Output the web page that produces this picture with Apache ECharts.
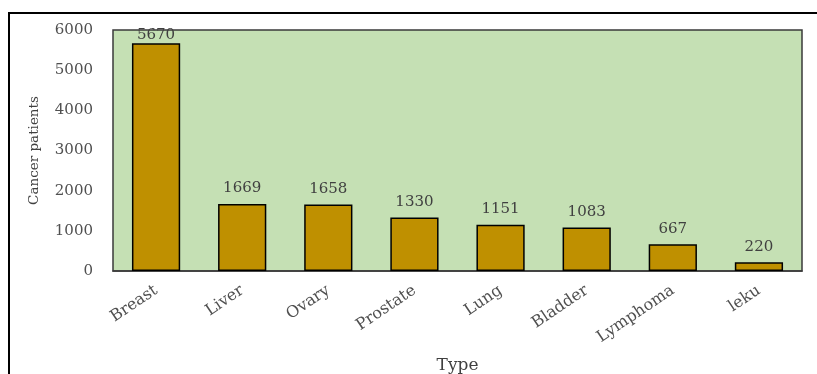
<!DOCTYPE html>
<html>
<head>
<meta charset="utf-8">
<script src="https://cdn.jsdelivr.net/npm/echarts@6/dist/echarts.min.js"></script>
<style>
html, body { margin: 0; padding: 0; background: #fff; }
#main { width: 817px; height: 374px; }
</style>
</head>
<body>
<div id="main"></div>
<script>
var types = ['Breast', 'Liver', 'Ovary', 'Prostate', 'Lung', 'Bladder', 'Lymphoma', 'leku'];
var patients = [5670, 1669, 1658, 1330, 1151, 1083, 667, 220];

var font = 'DejaVu Serif';
var myChart = echarts.init(document.getElementById('main'));
// the tallest bar's label sits close to the bar, like in the original
var barData = patients.map(function (v, i) {
	return i === 0 ? { value: v, label: { distance: 1 } } : v;
});
var option = {
	animation: false,
	backgroundColor: '#fff',
	graphic: [{
		type: 'rect',
		shape: { x: 9, y: 13, width: 900, height: 400 },
		style: { fill: 'none', stroke: '#000', lineWidth: 2 }
	}],
	grid: {
		left: 113,
		top: 30,
		right: 15,
		bottom: 103,
		outerBoundsMode: 'none',
		containLabel: false,
		show: true,
		backgroundColor: '#c5e0b4',
		borderColor: '#3a3a3a',
		borderWidth: 1.5
	},
	xAxis: {
		type: 'category',
		data: types,
		name: 'Type',
		nameLocation: 'middle',
		nameGap: 86,
		nameTextStyle: { fontFamily: font, fontSize: 17, color: '#404040' },
		axisLine: { lineStyle: { color: '#3a3a3a', width: 1.5 } },
		axisTick: { show: false },
		axisLabel: {
			rotate: 34,
			margin: 18,
			fontFamily: font,
			fontSize: 16,
			color: '#505050'
		}
	},
	yAxis: {
		type: 'value',
		min: 0,
		max: 6000,
		interval: 1000,
		name: 'Cancer patients',
		nameLocation: 'middle',
		nameGap: 72,
		nameTextStyle: { fontFamily: font, fontSize: 13.5, color: '#404040' },
		splitLine: { show: false },
		axisLine: { show: false },
		axisTick: { show: false },
		axisLabel: {
			margin: 20,
			fontFamily: font,
			fontSize: 15,
			color: '#505050',
			formatter: function (v) { return String(v); }
		}
	},
	series: [{
		type: 'bar',
		data: barData,
		barWidth: '56%',
		itemStyle: { color: '#bf9000', borderColor: '#000', borderWidth: 1.5 },
		label: {
			show: true,
			position: 'top',
			distance: 8,
			fontFamily: font,
			fontSize: 15,
			color: '#404040'
		}
	}]
};
myChart.setOption(option);
</script>
</body>
</html>
